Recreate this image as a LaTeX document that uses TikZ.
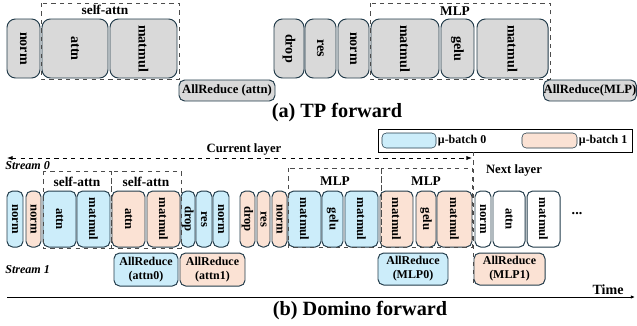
\documentclass[tikz,border=0pt]{standalone}
\usepackage{fontspec}
\setmainfont{Liberation Serif}
\usepackage{tikz}
\usetikzlibrary{arrows.meta, positioning}
\definecolor{dominoblue}{RGB}{204, 237, 250}
\definecolor{dominopeach}{RGB}{251, 226, 212}
\definecolor{dominogray}{RGB}{217, 217, 217}
\definecolor{dominoline}{RGB}{35, 60, 75}

\tikzset{
    blk/.style={draw=dominoline, line width=0.7pt, inner sep=0pt, rotate=-90, font=\fontsize{9}{10}\selectfont\bfseries},
    arbox/.style={draw=dominoline, line width=0.7pt, rounded corners=4pt, inner sep=0pt, align=center, font=\fontsize{8.5}{10}\selectfont\bfseries},
    grp/.style={draw=black!70, dashed, line width=0.7pt},
    lbl/.style={inner sep=0pt, font=\fontsize{9.5}{11}\selectfont\bfseries}
}

\begin{document}
\begin{tikzpicture}[x=0.025cm, y=-0.025cm]
\useasboundingbox (0,0) rectangle (637,325);

% (a) TP forward
\foreach \l/\r/\t [count=\i] in {7/40/norm, 42/108/attn, 110/177/matmul, 274/304/drop, 305/336/res, 338/369/norm, 371/439/matmul, 441/474/gelu, 477/548/matmul} {
    \node[blk, fill=dominogray, rounded corners=6pt, minimum width=59*0.025cm, minimum height={(\r-\l)*0.025cm}, font=\fontsize{10}{11}\selectfont\bfseries] (tp\i) at ({(\l+\r)/2}, 48.5) {\t};
}
\draw[grp] (41,3) rectangle (179,79);
\draw[grp] (370,3) rectangle (550,79);
\node[lbl] (tpattn) at (105,10) {self-attn};
\node[lbl] (tpmlp) at (455,11) {MLP};
\node[arbox, fill=dominogray, minimum width=96*0.025cm, minimum height=21*0.025cm, font=\fontsize{9}{10}\selectfont\bfseries] (tpar1) at (227,90.5) {AllReduce (attn)};
\node[arbox, fill=dominogray, minimum width=90*0.025cm, minimum height=21*0.025cm, font=\fontsize{9}{10}\selectfont\bfseries] (tpar2) at (590,90.5) {AllReduce(MLP)};
\node[font=\fontsize{14.4}{16}\selectfont\bfseries] (tptitle) at (337,113) {(a) TP forward};

% legend
\draw[line width=0.7pt] (378,129) rectangle (632,152);
\node[draw=dominoline, fill=dominoblue, rounded corners=3pt, minimum width=54*0.025cm, minimum height=15*0.025cm, inner sep=0pt] (leg0) at (409,140.5) {};
\node[right=1pt of leg0, inner sep=0pt, font=\fontsize{8.5}{10}\selectfont\bfseries] (leg0t) {μ-batch 0};
\node[draw=dominoline, fill=dominopeach, rounded corners=3pt, minimum width=55*0.025cm, minimum height=15*0.025cm, inner sep=0pt] (leg1) at (549.5,140.5) {};
\node[right=1pt of leg1, inner sep=0pt, font=\fontsize{8.5}{10}\selectfont\bfseries] (leg1t) {μ-batch 1};

% layer marks
\coordinate (cl-l) at (7,158);
\coordinate (cl-r) at (472,158);
\draw[dashed, line width=0.6pt, {Latex[length=4pt,width=3pt]}-{Latex[length=4pt,width=3pt]}] (cl-l) -- (cl-r);
\node[lbl, font=\fontsize{9}{10}\selectfont\bfseries] (cur) at (244,149) {Current layer};
\node[lbl, font=\fontsize{9}{10}\selectfont\bfseries] (nxt) at (514,170) {Next layer};
\node[inner sep=0pt, anchor=west, font=\fontsize{8.6}{10}\selectfont\bfseries\itshape] (s0) at (5,166) {Stream 0};
\node[inner sep=0pt, anchor=west, font=\fontsize{8.6}{10}\selectfont\bfseries\itshape] (s1) at (5,270) {Stream 1};

% (b) Domino forward
\foreach \l/\r/\t/\c [count=\i] in {7/23/norm/dominoblue, 26/41/norm/dominopeach, 43/76/attn/dominoblue, 77/110/matmul/dominoblue, 112/145/attn/dominopeach, 147/180/matmul/dominopeach, 181/195/drop/dominoblue, 196/212/res/dominoblue, 213/229/norm/dominoblue, 240/255/drop/dominopeach, 257/270/res/dominopeach, 272/287/norm/dominopeach, 288/321/matmul/dominoblue, 322/343/gelu/dominoblue, 345/378/matmul/dominoblue, 380/413/matmul/dominopeach, 416/436/gelu/dominopeach, 437/472/matmul/dominopeach, 475/491/norm/white, 493/525/attn/white, 527/560/matmul/white} {
    \node[blk, fill=\c, rounded corners=4pt, minimum width=56*0.025cm, minimum height={(\r-\l)*0.025cm}] (dm\i) at ({(\l+\r)/2}, 219) {\t};
}
\draw[grp] (43,171) rectangle (111,248);
\draw[grp] (111,171) rectangle (181,248);
\draw[grp] (288,168) rectangle (381,247);
\draw[grp] (381,168) rectangle (472,247);
\node[lbl] (dmattn0) at (77,182) {self-attn};
\node[lbl] (dmattn1) at (146,182) {self-attn};
\node[lbl] (dmmlp0) at (335,181) {MLP};
\node[lbl] (dmmlp1) at (426,181) {MLP};
\node[inner sep=0pt, font=\bfseries] (dots) at (577,214) {...};

\node[arbox, fill=dominoblue, minimum width=64*0.025cm, minimum height=33*0.025cm] (ar0) at (146,269.5) {AllReduce\\(attn0)};
\node[arbox, fill=dominopeach, minimum width=65*0.025cm, minimum height=33*0.025cm] (ar1) at (212.5,269.5) {AllReduce\\(attn1)};
\node[arbox, fill=dominoblue, minimum width=70*0.025cm, minimum height=32*0.025cm] (ar2) at (413,269) {AllReduce\\(MLP0)};
\node[arbox, fill=dominopeach, minimum width=71*0.025cm, minimum height=32*0.025cm] (ar3) at (509.5,269) {AllReduce\\(MLP1)};

\coordinate (nl-t) at (473,152);
\coordinate (nl-b) at (473,285);
\draw[grp] (nl-t) -- (nl-b);

% time axis
\coordinate (t-l) at (7,297);
\coordinate (t-r) at (635,297);
\draw[line width=0.7pt, -{Latex[length=3pt,width=2.5pt]}] (t-l) -- (t-r);
\node[inner sep=0pt, font=\fontsize{10}{11}\selectfont\bfseries] (time) at (608,290) {Time};
\node[font=\fontsize{14.4}{16}\selectfont\bfseries] (dmtitle) at (360,311) {(b) Domino forward};

\end{tikzpicture}
\end{document}
